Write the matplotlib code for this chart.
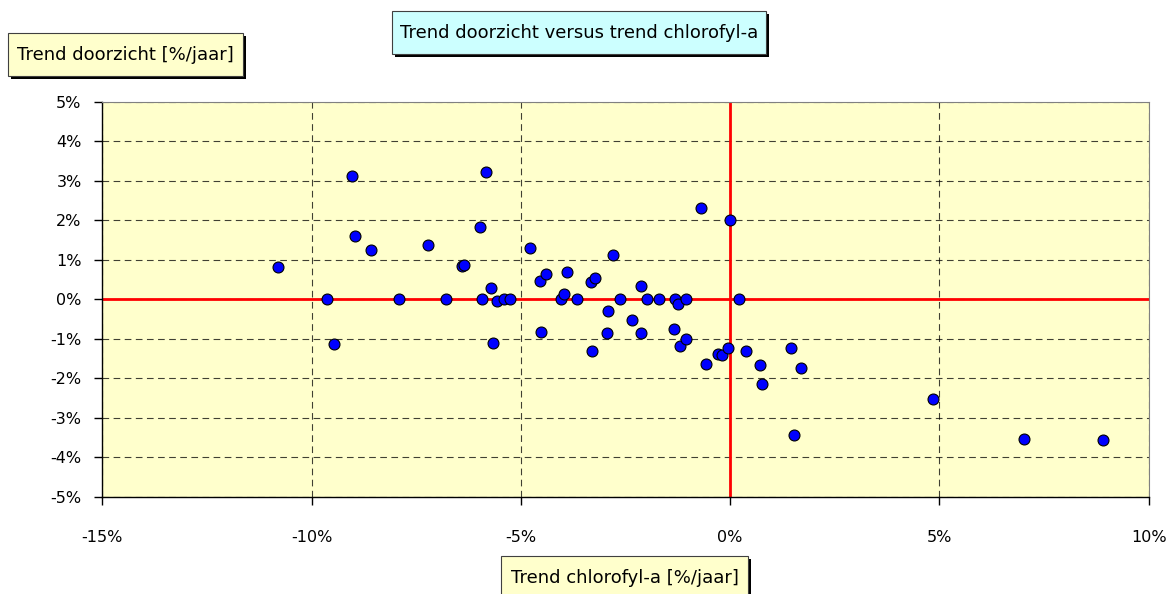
import matplotlib
matplotlib.use("Agg")
import matplotlib.pyplot as plt
from matplotlib.patches import Rectangle
from matplotlib.ticker import FuncFormatter, MultipleLocator

# Trend in chlorophyll-a (%/year) per station
chlorofyl_trend = [
    -10.81, -9.63, -9.47, -9.04, -8.96, -8.57, -7.91, -7.21, -6.80, -6.40,
    -6.37, -5.97, -5.92, -5.83, -5.71, -5.67, -5.57, -5.41, -5.25, -4.78,
    -4.55, -4.52, -4.40, -4.04, -3.96, -3.89, -3.66, -3.33, -3.30, -3.22,
    -2.95, -2.93, -2.81, -2.63, -2.34, -2.12, -2.12, -1.98, -1.71, -1.35,
    -1.31, -1.24, -1.19, -1.06, -1.06, -0.70, -0.58, -0.30, -0.19, -0.05,
    0.00, 0.21, 0.39, 0.72, 0.75, 1.46, 1.52, 1.69, 4.84, 7.02, 8.92,
]
# Trend in transparency (%/year) for the same stations
doorzicht_trend = [
    0.82, 0.00, -1.14, 3.13, 1.60, 1.26, 0.00, 1.37, 0.00, 0.85,
    0.87, 1.84, 0.00, 3.21, 0.29, -1.10, -0.05, 0.00, 0.00, 1.31,
    0.46, -0.82, 0.65, 0.00, 0.13, 0.70, 0.00, 0.45, -1.30, 0.55,
    -0.86, -0.30, 1.11, 0.00, -0.52, 0.35, -0.84, 0.00, 0.00, -0.74,
    0.00, -0.11, -1.17, 0.00, -1.01, 2.30, -1.64, -1.38, -1.40, -1.22,
    2.01, 0.00, -1.30, -1.67, -2.13, -1.22, -3.44, -1.73, -2.51, -3.54, -3.56,
]

x_limits = (-15, 10)
y_limits = (-5, 5)

title_text = "Trend doorzicht versus trend chlorofyl-a"
x_label = "Trend chlorofyl-a [%/jaar]"
y_label = "Trend doorzicht [%/jaar]"

plt.rcParams["font.family"] = ["DejaVu Sans"]

W, H = 1175, 594
fig = plt.figure(figsize=(W / 100, H / 100), dpi=100)
fig.patch.set_facecolor("white")

ax = fig.add_axes([102.4 / W, 1 - 497 / H, (1148.6 - 102.4) / W, (497 - 101.7) / H])
ax.set_facecolor("#FFFFCC")
ax.set_xlim(*x_limits)
ax.set_ylim(*y_limits)

ax.xaxis.set_major_locator(MultipleLocator(5))
ax.yaxis.set_major_locator(MultipleLocator(1))
pct = FuncFormatter(lambda v, _: f"{v:.0f}%")
ax.xaxis.set_major_formatter(pct)
ax.yaxis.set_major_formatter(pct)

ax.grid(True, color="black", linestyle=(0, (6, 4)), linewidth=0.8, alpha=0.75)
ax.set_axisbelow(True)

for side in ("top", "right"):
    ax.spines[side].set_color("#808080")
    ax.spines[side].set_linewidth(0.8)
for side in ("left", "bottom"):
    ax.spines[side].set_color("black")
    ax.spines[side].set_linewidth(1.0)

ax.tick_params(axis="both", direction="out", length=6, width=1, colors="black",
               labelsize=11.5)
ax.tick_params(axis="x", pad=18)
ax.tick_params(axis="y", pad=9)

# Zero reference lines
ax.axhline(0, color="#FF0000", linewidth=2.0, zorder=2)
ax.axvline(0, color="#FF0000", linewidth=2.0, zorder=2)

ax.scatter(chlorofyl_trend, doorzicht_trend, s=62, c="#0000FF",
           edgecolors="black", linewidths=0.8, zorder=3, clip_on=False)


def label_box(x0, y0, x1, y1, text, face, fontsize):
    """Boxed text label with a drop shadow, in pixel coordinates (top-left origin)."""
    shadow = Rectangle(((x0 + 3) / W, 1 - (y1 + 3) / H), (x1 - x0) / W, (y1 - y0) / H,
                       transform=fig.transFigure, facecolor="black",
                       edgecolor="none", zorder=5)
    box = Rectangle((x0 / W, 1 - y1 / H), (x1 - x0) / W, (y1 - y0) / H,
                    transform=fig.transFigure, facecolor=face,
                    edgecolor="#404040", linewidth=0.8, zorder=6)
    fig.add_artist(shadow)
    fig.add_artist(box)
    fig.text((x0 + x1) / 2 / W, 1 - (y0 + y1) / 2 / H, text, ha="center",
             va="center", fontsize=fontsize, color="black", zorder=7)


label_box(392, 11, 766, 54, title_text, "#CCFFFF", 13)
label_box(8, 33, 243, 76, y_label, "#FFFFCC", 13)
label_box(501, 556, 748, 600, x_label, "#FFFFCC", 13)

fig.savefig("out.png", dpi=100, facecolor="white")
